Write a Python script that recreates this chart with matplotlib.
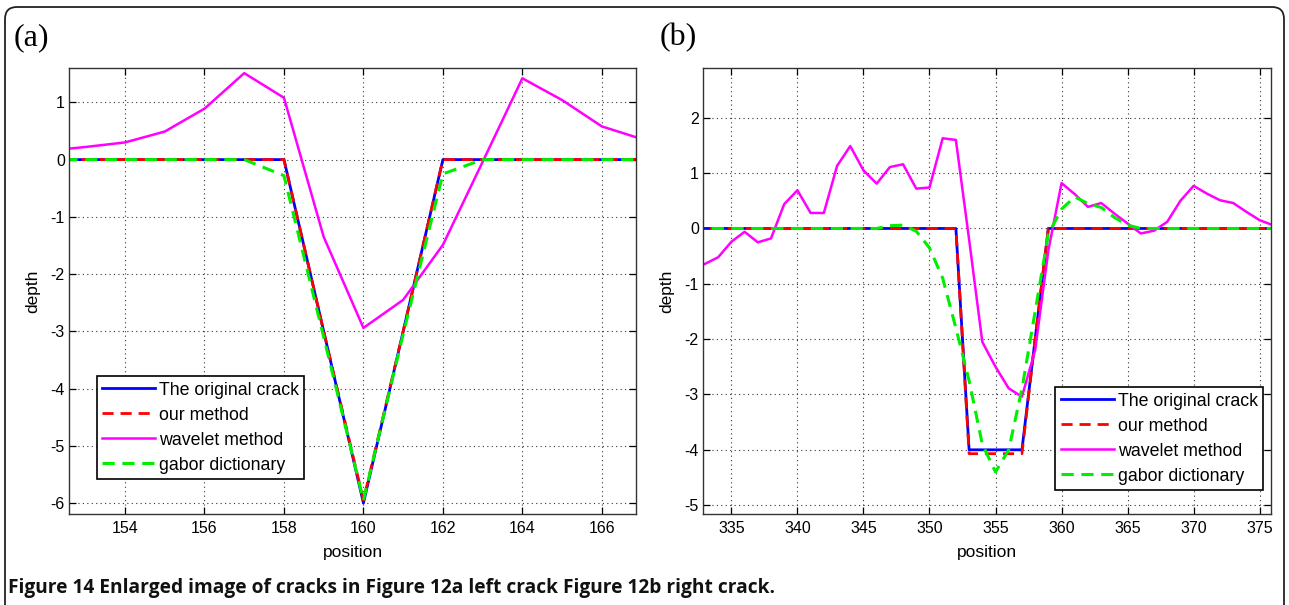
import matplotlib
matplotlib.use("Agg")
import matplotlib.pyplot as plt
from matplotlib.patches import FancyBboxPatch

plt.rcParams["axes.unicode_minus"] = False

# ---------------- data ----------------
pos_a = list(range(152, 168))
original_a = [0, 0, 0, 0, 0, 0, 0, -3, -6, -3, 0, 0, 0, 0, 0, 0]
ours_a = [0, 0, 0, 0, 0, 0, 0, -3, -5.95, -3, 0, 0, 0, 0, 0, 0]
wavelet_a = [0.15, 0.22, 0.30, 0.49, 0.89, 1.51, 1.08, -1.35, -2.94, -2.45,
             -1.49, -0.04, 1.42, 1.04, 0.58, 0.36]
gabor_a = [0, 0, 0, 0, 0, 0, -0.28, -3.1, -5.95, -3.05, -0.25, 0, 0, 0, 0, 0]

pos_b = list(range(332, 377))
original_b = [0] * 21 + [-4, -4, -4, -4, -4, -2] + [0] * 18
ours_b = [0] * 21 + [-4.07, -4.07, -4.07, -4.07, -4.07, -2.0] + [0] * 18
wavelet_b = [-0.75, -0.64, -0.52, -0.24, -0.06, -0.25, -0.18, 0.44, 0.69, 0.28,
             0.28, 1.13, 1.49, 1.05, 0.81, 1.11, 1.16, 0.72, 0.74, 1.63,
             1.60, -0.2, -2.05, -2.5, -2.89, -3.04, -2.2, -0.4, 0.82, 0.62,
             0.39, 0.46, 0.27, 0.09, -0.09, -0.04, 0.12, 0.50, 0.77, 0.63,
             0.51, 0.46, 0.30, 0.15, 0.06]
gabor_b = [0] * 15 + [0.05, 0.06, -0.05, -0.35, -0.9, -1.8, -2.75, -3.9, -4.4,
                      -4.0, -2.9, -1.5, -0.1, 0.35, 0.57, 0.45, 0.38, 0.2, 0.06] + [0] * 11

labels = ["The original crack", "our method", "wavelet method", "gabor dictionary"]
xticks_a = [154, 156, 158, 160, 162, 164, 166]
yticks_a = [-6, -5, -4, -3, -2, -1, 0, 1]
xticks_b = [335, 340, 345, 350, 355, 360, 365, 370, 375]
yticks_b = [-5, -4, -3, -2, -1, 0, 1, 2]
caption = "Figure 14 Enlarged image of cracks in Figure 12a left crack Figure 12b right crack."

# ---------------- figure ----------------
W, H = 1289, 605
fig = plt.figure(figsize=(W / 100, H / 100), dpi=100)
fig.patch.set_facecolor("white")

bg = fig.add_axes([0, 0, 1, 1], zorder=-10)
bg.set_xlim(0, W)
bg.set_ylim(H, 0)
bg.axis("off")
bg.add_patch(FancyBboxPatch((5, 7), 1279, 650,
                            boxstyle="round,pad=0,rounding_size=12",
                            fill=False, edgecolor="#222222", linewidth=1.3))

SANS = ["Liberation Sans", "DejaVu Sans"]
TICK_FS = 11.5
LABEL_FS = 12.5
LEG_FS = 12.8


def px_axes(x0, x1, y0, y1):
    return [x0 / W, 1 - y1 / H, (x1 - x0) / W, (y1 - y0) / H]


def style_axes(ax, xlim, ylim, xt, yt):
    ax.set_xlim(*xlim)
    ax.set_ylim(*ylim)
    ax.set_xticks(xt)
    ax.set_yticks(yt)
    ax.tick_params(direction="in", length=5, width=0.9, top=True, right=True,
                   labelsize=TICK_FS, colors="black")
    ax.tick_params(axis="x", pad=5)
    ax.tick_params(axis="y", pad=3)
    for lab in ax.get_xticklabels() + ax.get_yticklabels():
        lab.set_fontfamily(SANS)
    for s in ax.spines.values():
        s.set_linewidth(1.0)
        s.set_color("#333333")
    ax.grid(True, color="#333333", linestyle=(0, (1, 3)), linewidth=0.8)
    ax.set_axisbelow(True)
    ax.set_xlabel("position", fontsize=LABEL_FS, family=SANS)
    ax.set_ylabel("depth", fontsize=LABEL_FS, family=SANS)


def draw(ax, x, orig, ours, wav, gab):
    ax.plot(x, orig, color="#0000ff", lw=2.0, label=labels[0])
    ax.plot(x, ours, color="#ff0000", lw=2.0, ls=(0, (4, 2.5)), label=labels[1])
    ax.plot(x, wav, color="#ff00ff", lw=1.8, label=labels[2])
    ax.plot(x, gab, color="#00ee00", lw=2.2, ls=(0, (4, 2.5)), label=labels[3])


legend_kw = dict(frameon=True, fancybox=False, framealpha=1,
                 edgecolor="black", handlelength=3.0, handletextpad=0.2,
                 labelspacing=0.45, borderpad=0.3, borderaxespad=0,
                 prop={"family": SANS, "size": LEG_FS})

# panel a
axa = fig.add_axes(px_axes(69, 636, 68, 514))
draw(axa, pos_a, original_a, ours_a, wavelet_a, gabor_a)
style_axes(axa, (152.59, 166.86), (-6.19, 1.6), xticks_a, yticks_a)
la = axa.legend(loc="upper left", bbox_to_anchor=(0.049, 0.309), **legend_kw)
la.get_frame().set_linewidth(1.2)
axa.xaxis.set_label_coords(0.5, -(545 - 514) / 446)
axa.yaxis.set_label_coords((33 - 69) / 567, 0.5)
axa.yaxis.label.set_verticalalignment("center")

# panel b
axb = fig.add_axes(px_axes(703, 1271, 68, 514))
draw(axb, pos_b, original_b, ours_b, wavelet_b, gabor_b)
style_axes(axb, (332.85, 375.86), (-5.16, 2.9), xticks_b, yticks_b)
lb = axb.legend(loc="lower right", bbox_to_anchor=(0.986, 0.054), **legend_kw)
lb.get_frame().set_linewidth(1.2)
axb.xaxis.set_label_coords(0.5, -(545 - 514) / 446)
axb.yaxis.set_label_coords((667 - 703) / 568, 0.5)
axb.yaxis.label.set_verticalalignment("center")

# panel letters
fig.text(14 / W, 1 - 38 / H, "(a)", family=["Liberation Serif", "DejaVu Serif"],
         fontsize=23, ha="left", va="center")
fig.text(660 / W, 1 - 38 / H, "(b)", family=["Liberation Serif", "DejaVu Serif"],
         fontsize=23, ha="left", va="center")

# caption
fig.text(8 / W, 1 - 588 / H, caption, family=["Open Sans", "DejaVu Sans"],
         fontweight="bold", fontsize=13.8, ha="left", va="center", color="#111111")

fig.savefig("out.png", dpi=100)
